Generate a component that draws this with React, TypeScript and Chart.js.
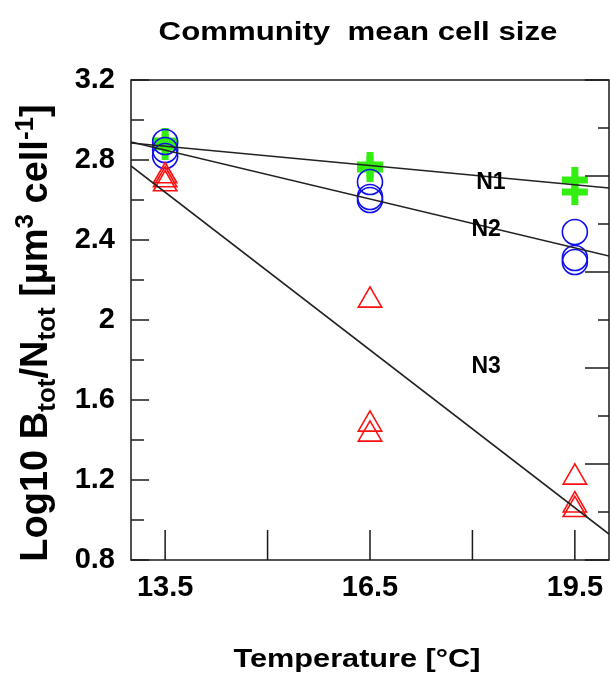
import React, { useEffect, useRef } from "react";
import { Chart, registerables } from "chart.js";

Chart.register(...registerables);

// ---------- data ----------
const titleText = "Community  mean cell size";
const xTitleText = "Temperature [°C]";

const xMin = 13;
const xMax = 20;
const yMin = 0.8;
const yMax = 3.2;
const y2Min = 0;
const y2Max = 10;

const xTickValues = [13.5, 16.5, 19.5];
const xTickLabels = ["13.5", "16.5", "19.5"];
const xTickMarks = [13.5, 15, 16.5, 18, 19.5];

const yTickValues = [0.8, 1.2, 1.6, 2.0, 2.4, 2.8, 3.2];
const yTickLabels = ["0.8", "1.2", "1.6", "2", "2.4", "2.8", "3.2"];
const yMinorTicks = [1.0, 1.4, 1.8, 2.2, 2.6, 3.0];

const y2MajorTicks = [0, 2, 4, 6, 8, 10];
const y2MinorTicks = [1, 3, 5, 7, 9];

// N1 (green plus)
const n1X = [13.5, 13.5, 16.5, 16.5, 19.5, 19.5];
const n1Y = [2.895, 2.865, 2.775, 2.755, 2.7, 2.64];
// N2 (blue circles)
const n2X = [13.5, 13.5, 13.5, 16.5, 16.5, 16.5, 19.5, 19.5, 19.5];
const n2Y = [2.89, 2.85, 2.82, 2.69, 2.615, 2.6, 2.44, 2.31, 2.29];
// N3 (red triangles)
const n3X = [13.5, 13.5, 13.5, 16.5, 16.5, 16.5, 19.5, 19.5, 19.5];
const n3Y = [2.72, 2.7, 2.68, 2.098, 1.478, 1.428, 1.213, 1.074, 1.051];

// regression lines
const fitX = [13, 20];
const n1Fit = [2.885, 2.66];
const n2Fit = [2.89, 2.32];
const n3Fit = [2.77, 0.93];

const lineLabels = ["N1", "N2", "N3"];
const lineLabelX = [18.27, 18.2, 18.2];
const lineLabelY = [2.685, 2.45, 1.765];

// ---------- helpers ----------
const pts = (xs: number[], ys: number[]) => xs.map((x, i) => ({ x, y: ys[i] }));

const BOLD = "'Liberation Sans', Arial, Helvetica, sans-serif";

const decorPlugin = {
  id: "decor",
  afterDraw(chart: any) {
    const { ctx, chartArea: a, scales } = chart;
    const xs = scales.x;
    const ys = scales.y;
    const y2 = scales.y2;
    ctx.save();

    // inward tick marks
    ctx.strokeStyle = "#1a1a1a";
    ctx.lineWidth = 1.5;
    ctx.beginPath();
    yTickValues.forEach((v) => {
      const p = ys.getPixelForValue(v);
      ctx.moveTo(a.left, p);
      ctx.lineTo(a.left + 18, p);
    });
    yMinorTicks.forEach((v) => {
      const p = ys.getPixelForValue(v);
      ctx.moveTo(a.left, p);
      ctx.lineTo(a.left + 13, p);
    });
    xTickMarks.forEach((v) => {
      const p = xs.getPixelForValue(v);
      ctx.moveTo(p, a.bottom);
      ctx.lineTo(p, a.bottom - 30);
    });
    y2MajorTicks.forEach((v) => {
      const p = y2.getPixelForValue(v);
      ctx.moveTo(a.right, p);
      ctx.lineTo(a.right - 24, p);
    });
    y2MinorTicks.forEach((v) => {
      const p = y2.getPixelForValue(v);
      ctx.moveTo(a.right, p);
      ctx.lineTo(a.right - 11, p);
    });
    ctx.stroke();

    // frame
    ctx.strokeRect(a.left, a.top, a.right - a.left, a.bottom - a.top);

    // line labels
    ctx.fillStyle = "#000";
    ctx.font = `bold 23px ${BOLD}`;
    ctx.textAlign = "center";
    ctx.textBaseline = "middle";
    lineLabels.forEach((t, i) => {
      ctx.fillText(t, xs.getPixelForValue(lineLabelX[i]), ys.getPixelForValue(lineLabelY[i]));
    });

    // chart title
    ctx.save();
    ctx.translate(358, 39.5);
    ctx.scale(1.2, 1);
    ctx.font = `bold 26px ${BOLD}`;
    ctx.textAlign = "center";
    ctx.textBaseline = "alphabetic";
    ctx.fillText(titleText, 0, 0);
    ctx.restore();

    // x axis title
    ctx.save();
    ctx.translate(357, 667);
    ctx.scale(1.18, 1);
    ctx.font = `bold 26px ${BOLD}`;
    ctx.textAlign = "center";
    ctx.textBaseline = "alphabetic";
    ctx.fillText(xTitleText, 0, 0);
    ctx.restore();

    // y axis title with sub/superscripts
    const segs = [
      { t: "Log10 B", k: "n" },
      { t: "tot", k: "sub" },
      { t: "/N", k: "n" },
      { t: "tot", k: "sub" },
      { t: " [µm", k: "n" },
      { t: "3", k: "sup" },
      { t: " cell", k: "n" },
      { t: "-1", k: "sup" },
      { t: "]", k: "n" },
    ];
    const fontFor = (k: string) => (k === "n" ? `bold 38px ${BOLD}` : `bold 26px ${BOLD}`);
    let total = 0;
    segs.forEach((s) => {
      ctx.font = fontFor(s.k);
      total += ctx.measureText(s.t).width;
    });
    ctx.save();
    ctx.translate(46.5, 333);
    ctx.rotate(-Math.PI / 2);
    ctx.textAlign = "left";
    ctx.textBaseline = "alphabetic";
    let cx = -total / 2;
    segs.forEach((s) => {
      ctx.font = fontFor(s.k);
      const dy = s.k === "sub" ? 8 : s.k === "sup" ? -14 : 0;
      ctx.fillText(s.t, cx, dy);
      cx += ctx.measureText(s.t).width;
    });
    ctx.restore();

    ctx.restore();
  },
};

export default function App() {
  const ref = useRef<HTMLCanvasElement | null>(null);

  useEffect(() => {
    if (!ref.current) return;
    const chart = new Chart(ref.current, {
      type: "scatter",
      data: {
        datasets: [
          {
            label: "N1 fit",
            data: pts(fitX, n1Fit),
            showLine: true,
            borderColor: "#222",
            borderWidth: 1.6,
            pointRadius: 0,
            order: 0,
          },
          {
            label: "N2 fit",
            data: pts(fitX, n2Fit),
            showLine: true,
            borderColor: "#222",
            borderWidth: 1.6,
            pointRadius: 0,
            order: 0,
          },
          {
            label: "N3 fit",
            data: pts(fitX, n3Fit),
            showLine: true,
            borderColor: "#222",
            borderWidth: 1.6,
            pointRadius: 0,
            order: 0,
          },
          {
            label: "N3",
            data: pts(n3X, n3Y),
            pointStyle: "triangle",
            pointRadius: 13.5,
            borderColor: "#ff1010",
            backgroundColor: "rgba(0,0,0,0)",
            borderWidth: 1.6,
            order: 1,
          },
          {
            label: "N2",
            data: pts(n2X, n2Y),
            pointStyle: "circle",
            pointRadius: 12.5,
            borderColor: "#1010ee",
            backgroundColor: "rgba(0,0,0,0)",
            borderWidth: 1.6,
            order: 2,
          },
          {
            label: "N1",
            data: pts(n1X, n1Y),
            pointStyle: "cross",
            pointRadius: 13,
            borderColor: "#33ee11",
            borderWidth: 7,
            order: 3,
          },
        ],
      },
      options: {
        responsive: false,
        animation: false,
        events: [],
        layout: { autoPadding: false, padding: { top: 80, left: 0, right: 0, bottom: 0 } },
        plugins: {
          legend: { display: false },
          tooltip: { enabled: false },
          title: { display: false },
        },
        scales: {
          x: {
            type: "linear",
            position: "bottom",
            min: xMin,
            max: xMax,
            grid: { display: false, drawTicks: false },
            border: { display: false },
            afterBuildTicks: (s: any) => {
              s.ticks = xTickValues.map((v) => ({ value: v }));
            },
            afterFit: (s: any) => {
              s.height = 115;
              s.paddingLeft = 0;
              s.paddingRight = 0;
            },
            ticks: {
              autoSkip: false,
              maxRotation: 0,
              padding: 11,
              color: "#000",
              font: { family: BOLD, size: 29, weight: "bold" },
              callback: (v: any) => {
                const i = xTickValues.indexOf(Number(v));
                return i >= 0 ? xTickLabels[i] : "";
              },
            },
          },
          y: {
            type: "linear",
            position: "left",
            min: yMin,
            max: yMax,
            grid: { display: false, drawTicks: false },
            border: { display: false },
            afterBuildTicks: (s: any) => {
              s.ticks = yTickValues.map((v) => ({ value: v }));
            },
            afterFit: (s: any) => {
              s.width = 131;
              s.paddingTop = 0;
              s.paddingBottom = 0;
            },
            ticks: {
              autoSkip: false,
              padding: 16,
              color: "#000",
              font: { family: BOLD, size: 29, weight: "bold" },
              callback: (v: any) => {
                const i = yTickValues.findIndex((t) => Math.abs(t - Number(v)) < 1e-6);
                return i >= 0 ? yTickLabels[i] : "";
              },
            },
          },
          y2: {
            type: "linear",
            position: "right",
            min: y2Min,
            max: y2Max,
            grid: { display: false, drawTicks: false },
            border: { display: false },
            ticks: { display: false },
            afterFit: (s: any) => {
              s.width = 2;
              s.paddingTop = 0;
              s.paddingBottom = 0;
            },
          },
        },
      },
      plugins: [decorPlugin],
    });
    return () => chart.destroy();
  }, []);

  return (
    <div style={{ position: "absolute", left: 0, top: 0, width: 611, height: 675 }}>
      <canvas ref={ref} width={611} height={675} style={{ display: "block" }} />
    </div>
  );
}
